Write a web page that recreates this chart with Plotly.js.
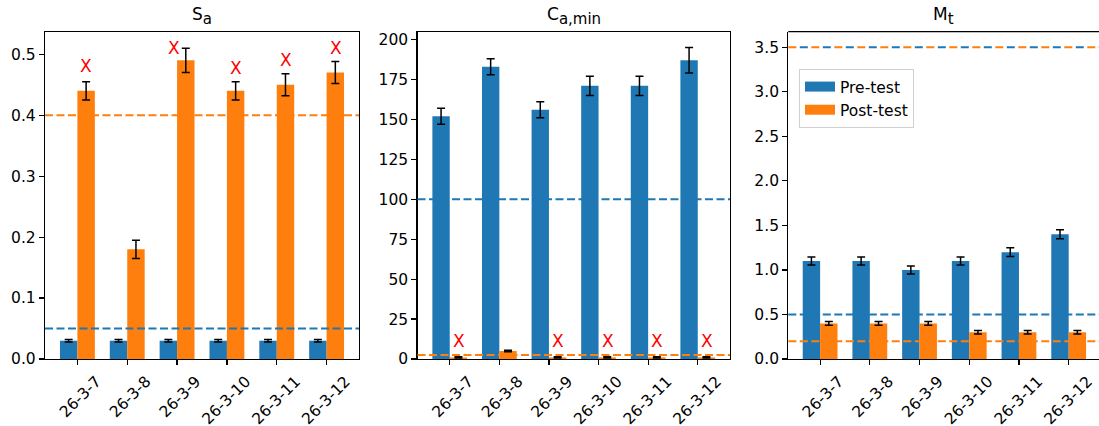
<!DOCTYPE html>
<html>
<head>
<meta charset="utf-8">
<script src="https://cdn.plot.ly/plotly-3.0.1.min.js"></script>
<style>html,body{margin:0;padding:0;background:#fff;}#chart{width:1099px;height:426px;}</style>
</head>
<body>
<div id="chart"></div>
<script>
// ---- data ----
const categories = ["26-3-7", "26-3-8", "26-3-9", "26-3-10", "26-3-11", "26-3-12"];
const seriesNames = ["Pre-test", "Post-test"];

const saPre = [0.03, 0.03, 0.03, 0.03, 0.03, 0.03];
const saPreErr = [0.002, 0.002, 0.002, 0.002, 0.002, 0.002];
const saPost = [0.44, 0.18, 0.49, 0.44, 0.45, 0.47];
const saPostErr = [0.015, 0.015, 0.02, 0.015, 0.018, 0.018];
const saLimits = {pre: 0.05, post: 0.4};
const saFailY = [0.48, null, 0.511, 0.477, 0.49, 0.51];

const caPre = [152, 183, 156, 171, 171, 187];
const caPreErr = [5, 5, 5, 6, 6, 8];
const caPost = [1, 5, 1, 1, 1, 1];
const caPostErr = [0.4, 0.4, 0.4, 0.4, 0.4, 0.4];
const caLimits = {pre: 100, post: 2.5};
const caFailY = [11.3, null, 11.3, 11.3, 11.3, 11.3];

const mtPre = [1.1, 1.1, 1.0, 1.1, 1.2, 1.4];
const mtPreErr = [0.045, 0.045, 0.045, 0.045, 0.05, 0.05];
const mtPost = [0.4, 0.4, 0.4, 0.3, 0.3, 0.3];
const mtPostErr = [0.02, 0.02, 0.02, 0.02, 0.02, 0.02];
const mtLimits = {pre: [0.5, 3.5], post: [0.2, 3.5]};

const titleMain = ["S", "C", "M"];
const titleSub = ["a", "a,min", "t"];

// ---- style ----
const BLUE = "#1f77b4", ORANGE = "#ff7f0e";
const FONT = "DejaVu Sans, sans-serif";

const panels = [
  {pre: saPre, preErr: saPreErr, post: saPost, postErr: saPostErr, fail: saFailY},
  {pre: caPre, preErr: caPreErr, post: caPost, postErr: caPostErr, fail: caFailY},
  {pre: mtPre, preErr: mtPreErr, post: mtPost, postErr: mtPostErr, fail: null}
];

const traces = [];
panels.forEach((p, i) => {
  const xa = "x" + (i === 0 ? "" : i + 1), ya = "y" + (i === 0 ? "" : i + 1);
  const eb = (arr) => ({type: "data", array: arr, visible: true, color: "#000", thickness: 1.5, width: 4});
  traces.push({type: "bar", x: categories, y: p.pre, name: seriesNames[0], xaxis: xa, yaxis: ya,
    marker: {color: BLUE}, error_y: eb(p.preErr), showlegend: false, offsetgroup: "pre"});
  traces.push({type: "bar", x: categories, y: p.post, name: seriesNames[1], xaxis: xa, yaxis: ya,
    marker: {color: ORANGE}, error_y: eb(p.postErr), showlegend: false, offsetgroup: "post"});
});
// legend entries (wide patches)
traces.push({type: "scatter", mode: "lines", x: [null], y: [null], xaxis: "x3", yaxis: "y3",
  name: seriesNames[0], line: {color: BLUE, width: 11}, showlegend: true});
traces.push({type: "scatter", mode: "lines", x: [null], y: [null], xaxis: "x3", yaxis: "y3",
  name: seriesNames[1], line: {color: ORANGE, width: 11}, showlegend: true});

const W = 1099, H = 426;
const yDom = [(H - 359) / H, (H - 31.7) / H];
const xDoms = [[45 / W, 359 / W], [417.5 / W, 730 / W], [788.3 / W, 1]];
const xRanges = [[-0.65, 5.65], [-0.65, 5.65], [-0.64, 5.61]];
const yRanges = [[0, 0.537], [0, 204.9], [0, 3.675]];
const yDtick = [0.1, 25, 0.5];
const TICK = 15.5;

const layout = {
  width: W, height: H,
  margin: {l: 0, r: 0, t: 0, b: 0},
  paper_bgcolor: "#fff", plot_bgcolor: "#fff",
  font: {family: FONT, size: TICK, color: "#000"},
  barmode: "group", bargap: 0.3, bargroupgap: 0,
  showlegend: true,
  legend: {x: 799 / W, y: (H - 69) / H, xanchor: "left", yanchor: "top",
    bgcolor: "rgba(255,255,255,0.8)", bordercolor: "#d0d0d0", borderwidth: 1,
    font: {family: FONT, size: 15.5, color: "#000"}, tracegroupgap: 2},
  shapes: [], annotations: []
};

for (let i = 0; i < 3; i++) {
  const s = i === 0 ? "" : String(i + 1);
  layout["xaxis" + s] = {domain: xDoms[i], anchor: "y" + s, type: "category", range: xRanges[i],
    showline: true, mirror: i < 2 ? true : false, linecolor: "#000", linewidth: 1.2,
    ticks: "outside", ticklen: 5, tickwidth: 1.2, tickcolor: "#000",
    tickangle: -45, ticklabelshift: 19, ticklabelstandoff: 1, tickfont: {size: TICK},
    showgrid: false, zeroline: false, fixedrange: true};
  layout["yaxis" + s] = {domain: yDom, anchor: "x" + s, range: yRanges[i], dtick: yDtick[i], tick0: 0,
    showline: true, mirror: i < 2 ? true : false, linecolor: "#000", linewidth: 1.2,
    ticks: "outside", ticklen: 5, tickwidth: 1.2, tickcolor: "#000",
    tickfont: {size: TICK}, showgrid: false, zeroline: false, fixedrange: true,
    tickformat: i === 1 ? "d" : ".1f"};
  if (i === 2) {
    // top spine only (right edge is cut by the frame)
    layout.shapes.push({type: "line", xref: "x3 domain", yref: "y3 domain", x0: 0, x1: 1, y0: 1, y1: 1,
      line: {color: "#000", width: 1.2}});
  }
  layout.annotations.push({
    text: titleMain[i] + "<sub><span style='font-size:15px'>" + titleSub[i] + "</span></sub>",
    xref: "x" + s + " domain", yref: "y" + s + " domain",
    x: 0.5, y: 1, xanchor: "center", yanchor: "bottom", yshift: 2, showarrow: false,
    font: {family: FONT, size: 17, color: "#000"}});
}

function hline(ax, yv, color, dash) {
  const s = ax === 1 ? "" : String(ax);
  layout.shapes.push({type: "line", xref: "x" + s + " domain", yref: "y" + s, x0: 0, x1: 1, y0: yv, y1: yv,
    line: {color: color, width: 2, dash: dash}});
}
const DASH = "8px,3.5px";
hline(1, saLimits.post, ORANGE, DASH);
hline(1, saLimits.pre, BLUE, DASH);
hline(2, caLimits.pre, BLUE, DASH);
hline(2, caLimits.post, ORANGE, DASH);
hline(3, mtLimits.pre[0], BLUE, DASH);
hline(3, mtLimits.post[0], ORANGE, DASH);
// coinciding upper limits at 3.5: interleaved dashes
hline(3, mtLimits.pre[1], BLUE, "0px,11.5px,8px,3.5px");
hline(3, mtLimits.post[1], ORANGE, "8px,15px");

// red X markers for failed post-test values
[panels[0].fail, panels[1].fail].forEach((arr, i) => {
  const s = i === 0 ? "" : "2";
  arr.forEach((yv, k) => {
    if (yv === null) return;
    const shift = (i === 0 && k === 2) ? -3 : 9;
    layout.annotations.push({text: "X", x: categories[k], y: yv, xref: "x" + s, yref: "y" + s,
      xshift: shift, showarrow: false, xanchor: "center", yanchor: "middle",
      font: {family: FONT, size: 17, color: "#ff0000"}});
  });
});

Plotly.newPlot("chart", traces, layout, {staticPlot: true, displayModeBar: false});
</script>
</body>
</html>
